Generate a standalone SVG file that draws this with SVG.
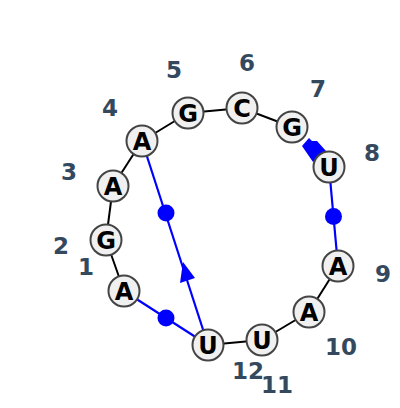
<svg xmlns="http://www.w3.org/2000/svg" width="400" height="408" viewBox="0 0 400 408">
<style>
.bb{stroke:#000;stroke-width:2;fill:none}
.bl{stroke:#0000ff;stroke-width:2.2;fill:none}
.dot{fill:#0000ff}
.nc{fill:#f0f0f0;stroke:#444;stroke-width:2}
.nt{font-family:"DejaVu Sans",sans-serif;font-weight:bold;font-size:24px;fill:#000;text-anchor:middle;dominant-baseline:central}
.lb{font-family:"DejaVu Sans",sans-serif;font-weight:bold;font-size:23px;fill:#34495e;text-anchor:middle;dominant-baseline:central}
</style>
<rect width="400" height="408" fill="#fff"/>
<g id="connectors">
<line class="bb" x1="124" y1="291" x2="106" y2="240"/>
<line class="bb" x1="106" y1="240" x2="113" y2="186"/>
<line class="bb" x1="113" y1="186" x2="142" y2="141"/>
<line class="bb" x1="142" y1="141" x2="188" y2="113"/>
<line class="bb" x1="188" y1="113" x2="242" y2="108"/>
<line class="bb" x1="242" y1="108" x2="292" y2="127"/>
<line class="bb" x1="338" y1="266" x2="309" y2="312"/>
<line class="bb" x1="309" y1="312" x2="262" y2="340"/>
<line class="bb" x1="262" y1="340" x2="208" y2="345"/>
<polygon class="dot" points="302,146 309,138 312,141 317,141 326,151 313,162"/>
<line class="bl" x1="329" y1="167" x2="338" y2="266"/>
<circle class="dot" cx="333.5" cy="216.5" r="8.5"/>
<line class="bl" x1="208" y1="345" x2="124" y2="291"/>
<circle class="dot" cx="166" cy="318" r="8.5"/>
<line class="bl" x1="142" y1="141" x2="208" y2="345"/>
<circle class="dot" cx="166" cy="213" r="8.5"/>
<polygon class="dot" points="183,262 195,278 180,283"/>
</g>
<g id="n1"><circle class="nc" cx="124" cy="291" r="15.5"/><text class="nt" x="124" y="292">A</text></g>
<g id="n2"><circle class="nc" cx="106" cy="240" r="15.5"/><text class="nt" x="106" y="241">G</text></g>
<g id="n3"><circle class="nc" cx="113" cy="186" r="15.5"/><text class="nt" x="113" y="187">A</text></g>
<g id="n4"><circle class="nc" cx="142" cy="141" r="15.5"/><text class="nt" x="142" y="142">A</text></g>
<g id="n5"><circle class="nc" cx="188" cy="113" r="15.5"/><text class="nt" x="188" y="114">G</text></g>
<g id="n6"><circle class="nc" cx="242" cy="108" r="15.5"/><text class="nt" x="242" y="109">C</text></g>
<g id="n7"><circle class="nc" cx="292" cy="127" r="15.5"/><text class="nt" x="292" y="128">G</text></g>
<g id="n8"><circle class="nc" cx="329" cy="167" r="15.5"/><text class="nt" x="329" y="168">U</text></g>
<g id="n9"><circle class="nc" cx="338" cy="266" r="15.5"/><text class="nt" x="338" y="267">A</text></g>
<g id="n10"><circle class="nc" cx="309" cy="312" r="15.5"/><text class="nt" x="309" y="313">A</text></g>
<g id="n11"><circle class="nc" cx="262" cy="340" r="15.5"/><text class="nt" x="262" y="341">U</text></g>
<g id="n12"><circle class="nc" cx="208" cy="345" r="15.5"/><text class="nt" x="208" y="346">U</text></g>
<g id="labels">
<text class="lb" x="86" y="267">1</text>
<text class="lb" x="61" y="246">2</text>
<text class="lb" x="69" y="172">3</text>
<text class="lb" x="110" y="108">4</text>
<text class="lb" x="174" y="70">5</text>
<text class="lb" x="247" y="63">6</text>
<text class="lb" x="318" y="89">7</text>
<text class="lb" x="372" y="153">8</text>
<text class="lb" x="383" y="274">9</text>
<text class="lb" x="341" y="347">10</text>
<text class="lb" x="277" y="385">11</text>
<text class="lb" x="248" y="371">12</text>
</g>
</svg>
